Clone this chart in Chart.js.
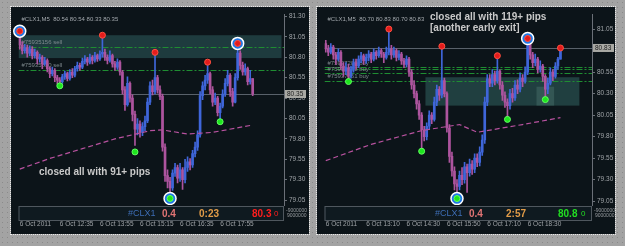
<!DOCTYPE html>
<html>
<head>
<meta charset="utf-8">
<script src="https://cdn.jsdelivr.net/npm/chart.js@4.4.0/dist/chart.umd.min.js"></script>
<style>
html, body { margin: 0; padding: 0; }
body {
    width: 625px; height: 246px; position: relative; overflow: hidden;
    background-color: #a3a3a3;
    background-image: radial-gradient(#8a8a8a 0.7px, transparent 1px);
    background-size: 5px 5px;
}
.panel { position: absolute; top: 7px; width: 298px; height: 227px; background: #0c1419; outline: 1px dotted #e8e8e8; }
#p1 { left: 11px; }
#p2 { left: 317px; }
canvas { display: block; }
</style>
</head>
<body>
<div class="panel" id="p1"><canvas id="chartLeft" width="298" height="227"></canvas></div>
<div class="panel" id="p2"><canvas id="chartRight" width="298" height="227"></canvas></div>
<script>
// ---- datos: grafico izquierdo (#CLX1 M5) ----
const leftFirstOpen = 81.05;
const leftClose = [80.95,80.88,80.92,80.85,80.90,80.82,80.86,80.78,80.80,80.72,
    80.76,80.66,80.60,80.64,80.55,80.52,80.50,80.56,80.60,80.54,
    80.62,80.58,80.66,80.70,80.68,80.75,80.78,80.74,80.80,80.76,
    80.82,80.78,80.84,80.86,80.80,80.76,80.82,80.72,80.68,80.74,
    80.62,80.40,80.22,80.48,80.30,80.10,79.92,79.98,79.88,79.95,
    80.02,80.25,80.45,80.38,80.55,80.40,80.32,79.70,79.35,79.28,
    79.20,79.38,79.45,79.32,79.42,79.30,79.45,79.52,79.48,79.62,
    79.70,79.85,80.33,80.45,80.52,80.60,80.40,80.25,80.30,80.12,
    80.20,80.35,80.48,80.58,80.38,80.25,80.55,80.85,80.70,80.62,
    80.66,80.50,80.54,80.35];
const leftHigh = [81.15,80.99,80.96,80.95,80.94,80.93,80.90,80.88,80.84,80.82,
    80.80,80.78,80.68,80.68,80.66,80.58,80.55,80.59,80.63,80.62,
    80.65,80.66,80.69,80.74,80.73,80.79,80.82,80.80,80.84,80.82,
    80.86,80.84,80.88,81.07,80.90,80.83,80.88,80.84,80.75,80.78,
    80.76,80.64,80.44,80.56,80.50,80.34,80.14,80.05,80.02,80.00,
    80.08,80.30,80.50,80.52,80.86,80.58,80.45,80.35,79.74,79.42,
    79.33,79.42,79.50,79.48,79.50,79.45,79.55,79.58,79.56,79.66,
    79.76,79.90,80.38,80.50,80.58,80.74,80.62,80.44,80.36,80.32,
    80.24,80.40,80.54,80.64,80.60,80.42,80.60,80.97,80.88,80.74,
    80.72,80.68,80.64,80.54];
const leftLow = [80.90,80.84,80.85,80.80,80.82,80.78,80.79,80.72,80.74,80.66,
    80.70,80.62,80.55,80.57,80.50,80.47,80.45,80.48,80.53,80.51,
    80.52,80.55,80.56,80.63,80.64,80.66,80.72,80.70,80.72,80.72,
    80.74,80.75,80.76,80.80,80.76,80.72,80.74,80.68,80.64,80.65,
    80.58,80.35,80.15,80.20,80.25,80.02,79.72,79.85,79.82,79.84,
    79.90,80.00,80.22,80.34,80.35,80.36,80.28,79.65,79.28,79.20,
    79.14,79.17,79.34,79.26,79.28,79.18,79.26,79.40,79.42,79.45,
    79.58,79.66,79.82,80.28,80.40,80.48,80.35,80.20,80.22,80.08,
    80.04,80.18,80.32,80.45,80.32,80.20,80.24,80.52,80.65,80.58,
    80.58,80.46,80.47,80.33];
const leftMaIdx = [0, 12, 25, 38, 52, 57, 67, 77, 93];
const leftMaVal = [79.43, 79.56, 79.68, 79.80, 79.90, 79.91, 79.86, 79.88, 79.97];
const leftSellIdx = [0, 33, 54, 75, 87];
const leftSellPrice = [81.12, 81.07, 80.86, 80.74, 80.97];
const leftBuyIdx = [16, 46, 60, 80];
const leftBuyPrice = [80.45, 79.64, 79.07, 80.01];
const leftRingIdx = [0, 60, 87];
const leftRingPrice = [81.12, 79.07, 80.97];
const leftZoneFrom = [0], leftZoneTo = [104], leftZoneHi = [81.07], leftZoneLo = [80.79];
const leftOrders = [80.93, 80.65];
const leftOrderText = ['#75935156 sell', '#75935830 sell'];
const leftCurrent = 80.35;
const leftYTicks = [81.30, 81.05, 80.80, 80.55, 80.30, 80.05, 79.80, 79.55, 79.30, 79.05];
const leftTimeLabels = ['6 Oct 2011', '6 Oct 12:35', '6 Oct 13:55', '6 Oct 15:15', '6 Oct 16:35', '6 Oct 17:55'];

// ---- datos: grafico derecho ----
const rightFirstOpen = 80.88;
const rightClose = [80.82,80.78,80.84,80.75,80.70,80.78,80.62,80.56,80.60,80.50,
    80.58,80.66,80.62,80.70,80.74,80.68,80.72,80.76,80.70,80.78,
    80.74,80.80,80.76,80.72,80.78,80.82,80.75,80.80,80.72,80.76,
    80.68,80.64,80.70,80.55,80.40,80.30,80.18,80.05,79.88,79.80,
    79.92,80.05,80.00,80.20,80.35,80.28,80.45,80.30,79.90,79.57,
    79.40,79.25,79.22,79.35,79.30,79.45,79.38,79.48,79.42,79.55,
    79.50,79.62,79.76,80.20,80.47,80.42,80.52,80.45,80.56,80.40,
    80.28,80.20,80.16,80.30,80.25,80.40,80.35,80.48,80.44,80.55,
    80.88,80.75,80.66,80.70,80.58,80.62,80.50,80.35,80.42,80.55,
    80.50,80.62,80.70,80.83];
const rightHigh = [80.92,80.86,80.88,80.86,80.78,80.82,80.80,80.66,80.66,80.64,
    80.62,80.70,80.70,80.74,80.78,80.76,80.76,80.80,80.78,80.82,
    80.80,80.84,80.82,80.78,80.84,81.05,80.86,80.84,80.82,80.80,
    80.78,80.71,80.74,80.72,80.58,80.45,80.33,80.22,80.08,79.92,
    79.96,80.10,80.08,80.26,80.40,80.38,80.85,80.48,80.32,79.94,
    79.62,79.45,79.30,79.40,79.44,79.50,79.48,79.54,79.52,79.60,
    79.60,79.68,79.82,80.26,80.52,80.52,80.58,80.56,80.74,80.58,
    80.44,80.32,80.24,80.35,80.36,80.45,80.46,80.54,80.52,80.61,
    80.94,80.90,80.78,80.76,80.72,80.68,80.64,80.52,80.48,80.60,
    80.58,80.66,80.72,80.83];
const rightLow = [80.78,80.74,80.76,80.70,80.64,80.68,80.58,80.50,80.52,80.46,
    80.48,80.55,80.58,80.60,80.66,80.64,80.65,80.68,80.66,80.68,
    80.70,80.72,80.72,80.66,80.70,80.75,80.70,80.72,80.68,80.69,
    80.64,80.60,80.61,80.50,80.35,80.25,80.12,80.00,79.63,79.75,
    79.76,79.88,79.95,79.98,80.16,80.22,80.25,80.26,79.85,79.50,
    79.34,79.18,79.08,79.18,79.24,79.26,79.15,79.34,79.36,79.38,
    79.45,79.46,79.58,79.72,80.16,80.38,80.38,80.40,80.42,80.35,
    80.22,80.14,80.00,80.12,80.20,80.22,80.30,80.32,80.38,80.42,
    80.52,80.70,80.60,80.62,80.54,80.55,80.44,80.23,80.30,80.40,
    80.45,80.48,80.58,80.70];
const rightMaIdx = [0, 18, 38, 53, 60, 78, 93];
const rightMaVal = [79.52, 79.71, 79.87, 79.94, 79.85, 79.94, 80.02];
const rightSellIdx = [25, 46, 68, 80, 93];
const rightSellPrice = [81.05, 80.85, 80.74, 80.94, 80.83];
const rightBuyIdx = [9, 38, 52, 72, 87];
const rightBuyPrice = [80.44, 79.63, 79.08, 80.00, 80.23];
const rightRingIdx = [52, 80];
const rightRingPrice = [79.08, 80.94];
const rightZoneFrom = [40, 84], rightZoneTo = [100, 90], rightZoneHi = [80.49, 80.38], rightZoneLo = [80.16, 80.16];
const rightOrders = [80.61, 80.58, 80.54, 80.45];
const rightOrderText = ['#75937209 buy', '', '#75937552 buy', '#75937561 buy'];
const rightCurrent = 80.83;
const rightYTicks = [81.05, 80.80, 80.55, 80.30, 80.05, 79.80, 79.55, 79.30, 79.05];
const rightTimeLabels = ['6 Oct 2011', '6 Oct 13:10', '6 Oct 14:30', '6 Oct 15:50', '6 Oct 17:10', '6 Oct 18:30'];

const BARS = 106;       // huecos de 5 min en el eje
const LABEL_STEP = 16;  // una etiqueta cada 80 min
const BULL = '#3f66da';
const BEAR = '#ad549e';
const FONT = '"Liberation Sans", Arial, sans-serif';

Chart.defaults.font.family = FONT;

// dibujo de zonas, lineas de ordenes, textos y barra de info estilo MT4
const mt4Plugin = {
    id: 'mt4',
    beforeDatasetsDraw(chart, args, o) {
        const { ctx, chartArea: a, scales: { x, y } } = chart;
        const half = (x.getPixelForValue(1) - x.getPixelForValue(0)) / 2;
        ctx.save();
        ctx.beginPath();
        ctx.rect(a.left, a.top, a.width, a.height);
        ctx.clip();
        o.zones.forEach(z => {
            const x1 = x.getPixelForValue(z.from) - half;
            const x2 = x.getPixelForValue(z.to) + half;
            const y1 = y.getPixelForValue(z.hi), y2 = y.getPixelForValue(z.lo);
            ctx.fillStyle = z.color;
            ctx.fillRect(x1, y1, x2 - x1, y2 - y1);
        });
        const yc = Math.round(y.getPixelForValue(o.current)) + 0.5;
        ctx.strokeStyle = '#59616a';
        ctx.lineWidth = 1;
        ctx.beginPath(); ctx.moveTo(a.left, yc); ctx.lineTo(a.right, yc); ctx.stroke();
        ctx.setLineDash([6, 2, 2, 2]);
        ctx.strokeStyle = '#1f8d32';
        o.orders.forEach(v => {
            const yy = Math.round(y.getPixelForValue(v)) + 0.5;
            ctx.beginPath(); ctx.moveTo(a.left, yy); ctx.lineTo(a.right, yy); ctx.stroke();
        });
        ctx.setLineDash([]);
        ctx.font = '6px ' + FONT;
        ctx.fillStyle = '#7f8a8e';
        ctx.textBaseline = 'bottom';
        o.orderText.forEach((t, i) => {
            if (t) ctx.fillText(t, a.left + 3, y.getPixelForValue(o.orders[i]) - 1);
        });
        ctx.restore();
    },
    afterDraw(chart, args, o) {
        const { ctx, chartArea: a, scales: { y } } = chart;
        ctx.save();
        // cabecera
        ctx.font = '6px ' + FONT;
        ctx.fillStyle = '#a3a8ad';
        ctx.textBaseline = 'top';
        ctx.textAlign = 'left';
        ctx.fillText(o.header, a.left + 3, a.top + 2);
        // notas
        ctx.font = 'bold 10px ' + FONT;
        ctx.fillStyle = '#c9c9c9';
        ctx.textBaseline = 'middle';
        o.notes.forEach(n => ctx.fillText(n.text, n.x, n.y));
        // caja de precio actual
        const yc = y.getPixelForValue(o.current);
        ctx.fillStyle = '#a9a9a4';
        ctx.fillRect(a.right + 1, yc - 4, 21, 8);
        ctx.fillStyle = '#1c1c1c';
        ctx.font = '6.5px ' + FONT;
        ctx.fillText(o.current.toFixed(2), a.right + 3, yc);
        // barra de info
        const top = a.bottom + 1;
        ctx.fillStyle = '#0f1a20';
        ctx.fillRect(a.left, top, a.width, 14);
        ctx.strokeStyle = '#4f575e';
        ctx.strokeRect(a.left + 0.5, top + 0.5, a.width - 1, 14);
        o.info.forEach(t => {
            ctx.font = t.font + ' ' + FONT;
            ctx.fillStyle = t.color;
            ctx.fillText(t.text, t.x, top + 8);
        });
        ctx.font = '5px ' + FONT;
        ctx.fillStyle = '#9a9ea2';
        ctx.fillText('-9000000', a.right + 2, top + 5);
        ctx.fillText('9000000', a.right + 3, top + 10);
        ctx.restore();
    }
};

function sparse(idx, val) {
    const arr = new Array(BARS).fill(null);
    idx.forEach((k, j) => { arr[k] = val[j]; });
    return arr;
}

function buildPanel(id, p) {
    const opens = [p.firstOpen].concat(p.close.slice(0, -1));
    const colors = p.close.map((c, i) => c >= opens[i] ? BULL : BEAR);
    const wicks = p.close.map((c, i) => [p.low[i], p.high[i]]);
    const bodies = p.close.map((c, i) => [opens[i], c]);
    const zones = p.zoneFrom.map((f, i) => ({
        from: f, to: p.zoneTo[i], hi: p.zoneHi[i], lo: p.zoneLo[i], color: p.zoneColors[i]
    }));
    const labels = Array.from({ length: BARS }, (_, i) => String(i));

    const ctx = document.getElementById(id).getContext('2d');
    return new Chart(ctx, {
        type: 'bar',
        data: {
            labels: labels,
            datasets: [
                { type: 'bar', data: wicks, backgroundColor: colors, barThickness: 1, grouped: false, order: 10 },
                { type: 'bar', data: bodies, backgroundColor: colors, barThickness: 2, minBarLength: 1, grouped: false, order: 9 },
                { type: 'line', data: sparse(p.maIdx, p.maVal), spanGaps: true, borderColor: '#b8529f',
                  borderWidth: 1.2, borderDash: [5, 3], pointRadius: 0, order: 8 },
                { type: 'line', data: sparse(p.ringIdx, p.ringPrice), showLine: false, pointRadius: 6,
                  pointBackgroundColor: '#1f78e6', pointBorderColor: p.ringBorder, pointBorderWidth: 1.5, order: 3 },
                { type: 'line', data: sparse(p.sellIdx, p.sellPrice), showLine: false, pointRadius: 3,
                  pointBackgroundColor: '#e41c1c', pointBorderColor: '#ff5040', pointBorderWidth: 1, order: 1 },
                { type: 'line', data: sparse(p.buyIdx, p.buyPrice), showLine: false, pointRadius: 3,
                  pointBackgroundColor: '#1ee61e', pointBorderColor: '#60ff60', pointBorderWidth: 1, order: 1 }
            ]
        },
        options: {
            responsive: false,
            animation: false,
            layout: { padding: { left: p.padLeft, top: 1, right: 0, bottom: 0 } },
            plugins: {
                legend: { display: false },
                tooltip: { enabled: false },
                mt4: {
                    zones: zones, orders: p.orders, orderText: p.orderText, current: p.current,
                    header: p.header, notes: p.notes, info: p.info
                }
            },
            scales: {
                x: {
                    type: 'category',
                    offset: true,
                    grid: { display: false, drawTicks: false },
                    border: { display: false },
                    ticks: {
                        autoSkip: false, maxRotation: 0, minRotation: 0, align: 'start', padding: 15,
                        color: '#9ea2a6', font: { size: 6.5 },
                        callback: (v, i) => (i % LABEL_STEP === 0 && p.timeLabels[i / LABEL_STEP]) ? p.timeLabels[i / LABEL_STEP] : ''
                    },
                    afterFit(s) { s.height = 29; s.paddingLeft = 0; s.paddingRight = 0; }
                },
                y: {
                    position: 'right',
                    min: p.yMin, max: p.yMax,
                    grid: { display: true, drawOnChartArea: false, drawTicks: true, tickLength: 3, color: '#6b7078' },
                    border: { display: true, color: '#6b7078' },
                    ticks: { color: '#a0a4a8', font: { size: 6.5 }, padding: 2, callback: v => Number(v).toFixed(2) },
                    afterBuildTicks(s) { s.ticks = p.yTicks.map(v => ({ value: v })); },
                    afterFit(s) { s.width = p.axisWidth; s.paddingTop = 0; s.paddingBottom = 0; }
                }
            }
        },
        plugins: [mt4Plugin]
    });
}

buildPanel('chartLeft', {
    firstOpen: leftFirstOpen, close: leftClose, high: leftHigh, low: leftLow,
    maIdx: leftMaIdx, maVal: leftMaVal,
    sellIdx: leftSellIdx, sellPrice: leftSellPrice, buyIdx: leftBuyIdx, buyPrice: leftBuyPrice,
    ringIdx: leftRingIdx, ringPrice: leftRingPrice, ringBorder: ['#ffffff', '#ffffff', '#4aa8ff'],
    zoneFrom: leftZoneFrom, zoneTo: leftZoneTo, zoneHi: leftZoneHi, zoneLo: leftZoneLo,
    zoneColors: ['rgba(42, 84, 86, 0.62)'],
    orders: leftOrders, orderText: leftOrderText, current: leftCurrent,
    yTicks: leftYTicks, timeLabels: leftTimeLabels,
    yMin: 78.99, yMax: 81.324, padLeft: 2, axisWidth: 25,
    header: '#CLX1,M5  80.54 80.54 80.33 80.35',
    notes: [{ text: 'closed all with 91+ pips', x: 28, y: 165 }],
    info: [
        { text: '#CLX1', x: 117, color: '#3d6db4', font: '9px' },
        { text: '0.4', x: 151, color: '#e07474', font: 'bold 10px' },
        { text: '0:23', x: 188, color: '#e29c48', font: 'bold 10px' },
        { text: '80.3', x: 241, color: '#ff1e1e', font: 'bold 10px' },
        { text: '0', x: 263, color: '#ff1e1e', font: '8px' }
    ]
});

buildPanel('chartRight', {
    firstOpen: rightFirstOpen, close: rightClose, high: rightHigh, low: rightLow,
    maIdx: rightMaIdx, maVal: rightMaVal,
    sellIdx: rightSellIdx, sellPrice: rightSellPrice, buyIdx: rightBuyIdx, buyPrice: rightBuyPrice,
    ringIdx: rightRingIdx, ringPrice: rightRingPrice, ringBorder: ['#ffffff', '#4aa8ff'],
    zoneFrom: rightZoneFrom, zoneTo: rightZoneTo, zoneHi: rightZoneHi, zoneLo: rightZoneLo,
    zoneColors: ['rgba(46, 92, 90, 0.6)', 'rgba(70, 110, 104, 0.5)'],
    orders: rightOrders, orderText: rightOrderText, current: rightCurrent,
    yTicks: rightYTicks, timeLabels: rightTimeLabels,
    yMin: 79.005, yMax: 81.219, padLeft: 3, axisWidth: 23,
    header: '#CLX1,M5  80.70 80.83 80.70 80.83',
    notes: [
        { text: 'closed all with 119+ pips', x: 113, y: 10 },
        { text: '[another early exit]', x: 113, y: 21 }
    ],
    info: [
        { text: '#CLX1', x: 118, color: '#3d6db4', font: '9px' },
        { text: '0.4', x: 152, color: '#e07474', font: 'bold 10px' },
        { text: '2:57', x: 189, color: '#e29c48', font: 'bold 10px' },
        { text: '80.8', x: 241, color: '#22dd22', font: 'bold 10px' },
        { text: '0', x: 264, color: '#22dd22', font: '8px' }
    ]
});
</script>
</body>
</html>
